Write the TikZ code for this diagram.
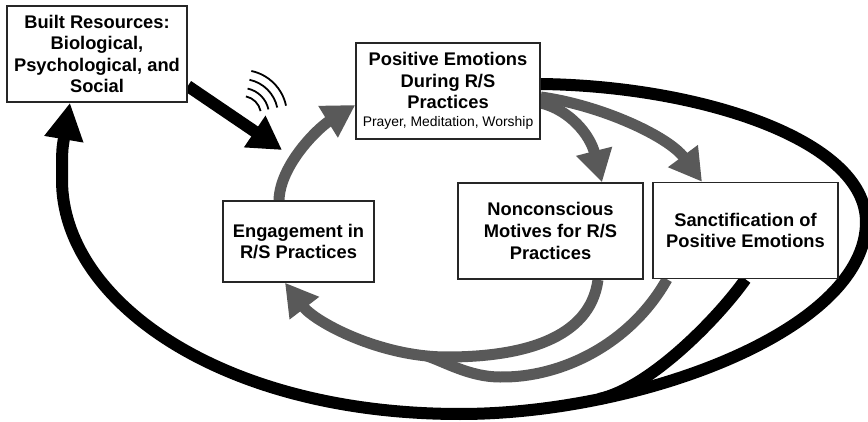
\documentclass[tikz,border=0pt]{standalone}
\usepackage{fontspec}
\setmainfont{Liberation Sans}
\usetikzlibrary{arrows.meta,backgrounds}

\begin{document}
\begin{tikzpicture}[x=1pt,y=-1pt,
  box/.style={draw=black!85,line width=1.5pt,fill=white,align=center,inner sep=2pt,
    font=\bfseries\fontsize{18.3}{21.6}\selectfont},
  blackarrow/.style={line width=12pt,-{Triangle[length=33pt,width=36pt]}},
  bigloop/.style={line width=12pt},
  grayarrow/.style={draw=black!65,line width=11pt,-{Triangle[length=32pt,width=35pt]}},
  grayline/.style={draw=black!65,line width=11pt},
  wave/.style={line width=1.8pt}]

  \useasboundingbox (0,0) rectangle (868,422);

  % the five boxes
  \node[box,minimum width=180pt,minimum height=96pt] (BuiltRes) at (97,54)
    {Built Resources:\\Biological,\\Psychological, and\\Social};
  \node[box,minimum width=184pt,minimum height=96pt] (PosEmo) at (448,91)
    {Positive Emotions\\During R/S\\Practices\\[-3.5pt]{\mdseries\fontsize{13.9}{16}\selectfont Prayer, Meditation, Worship}};
  \node[box,minimum width=151pt,minimum height=81pt] (Engage) at (298.5,241.5)
    {Engagement in\\R/S Practices};
  \node[box,minimum width=185pt,minimum height=96pt] (NonCon) at (550.5,231)
    {Nonconscious\\Motives for R/S\\Practices};
  \node[box,minimum width=185pt,minimum height=96pt] (Sanct) at (745.5,230.5)
    {Sanctification of\\Positive Emotions};

  \coordinate (EngageIn) at (282,150);
  \coordinate (waves) at (242,115);
  \coordinate (GrayMerge) at (427,356);
  \coordinate (BlackMerge) at (599,399);

  \begin{pgfonlayer}{background}
    % resources -> engagement, with the little waves
    \draw[blackarrow] ([yshift=-32pt]BuiltRes.east) -- (EngageIn);
    \foreach \r in {19,27,36,45}
      \draw[wave] (waves) ++(-78:\r) arc[start angle=-78,end angle=-12,radius=\r];

    % engagement -> emotions
    \draw[grayarrow] ([xshift=-19.5pt]Engage.north)
      .. controls (280,165) and (318,128) .. ([yshift=-14pt]PosEmo.west);

    % emotions -> motives, sanctification
    \draw[grayarrow] ([yshift=-12pt]PosEmo.east)
      .. controls (570,110) and (590,135) .. ([xshift=51.5pt]NonCon.north);
    \draw[grayarrow] ([yshift=-6pt]PosEmo.east)
      .. controls (600,105) and (668,136) .. ([xshift=-43.5pt]Sanct.north);

    % back to engagement
    \draw[grayarrow] ([xshift=47.5pt]NonCon.south)
      .. controls (590,340) and (520,357) .. (447,357)
      .. controls (380,357) and (315,322) .. ([xshift=-13.5pt]Engage.south);
    \draw[grayline] ([xshift=-78.5pt]Sanct.south)
      .. controls (630,345) and (560,378) .. (500,377)
      .. controls (470,377) and (445,362) .. (GrayMerge);

    % big loop back to the resources
    \draw[bigloop,-{Triangle[length=37pt,width=37pt]}] ([yshift=7pt]PosEmo.east)
      .. controls (700,86) and (866,140) .. (866,222)
      .. controls (866,330) and (640,414) .. (460,414)
      .. controls (220,414) and (62,300) .. (62,180)
      .. controls (62,150) .. ([xshift=-27pt]BuiltRes.south);
    \draw[bigloop] (Sanct.south)
      .. controls (718,318) and (650,388) .. (BlackMerge);
  \end{pgfonlayer}
\end{tikzpicture}
\end{document}
